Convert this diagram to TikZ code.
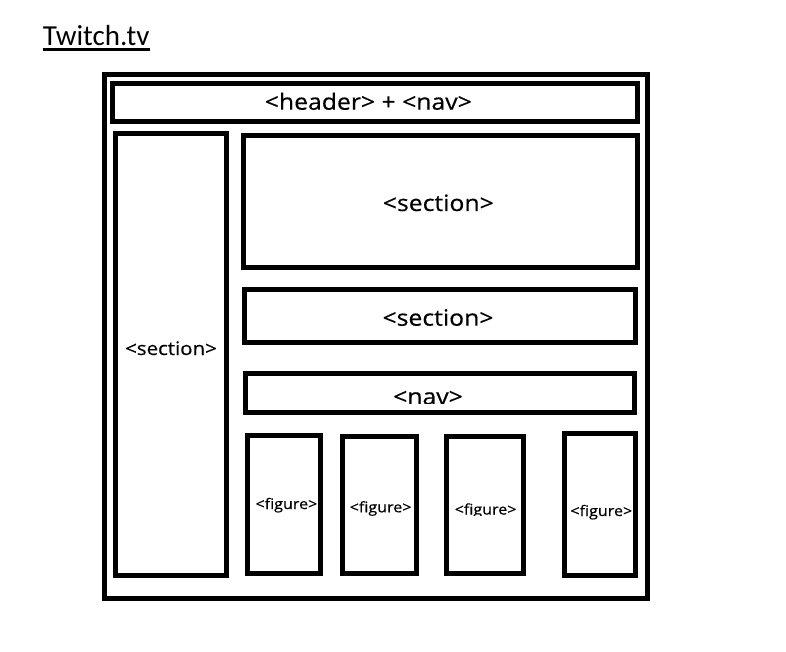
\documentclass[tikz,border=0pt]{standalone}
\usepackage{fontspec}
\usetikzlibrary{fit}
\newfontfamily\titlefont{Carlito}
\newfontfamily\labelfont[FakeStretch=1.1, FakeBold=0.4]{Open Sans}

\tikzset{
  layoutbox/.style={draw=black, line width=5pt, inner sep=0pt, outer sep=0pt},
  biglabel/.style={inner sep=0pt, anchor=base, font=\labelfont\fontsize{22.5}{26}\selectfont},
  midlabel/.style={inner sep=0pt, anchor=base, font=\labelfont\fontsize{18.6}{22}\selectfont},
  smalllabel/.style={inner sep=0pt, anchor=base, font=\labelfont\fontsize{14.6}{17}\selectfont},
}

\begin{document}
\begin{tikzpicture}[x=1pt, y=-1pt]
  \useasboundingbox (0,0) rectangle (786,652);

  % page title
  \node[inner sep=0pt, anchor=base west, font=\titlefont\fontsize{29}{34}\selectfont] (title) at (42.7,46) {Twitch.tv};
  \draw[line width=2.2pt] ([yshift=-3.5pt]title.base west) -- ([yshift=-3.5pt]title.base east);

  % page frame
  \node[layoutbox, fit={(104.5,74.5) (647,598)}] (page) {};

  % header strip
  \node[layoutbox, fit={(112.5,84) (637.5,122)}] (header) {};
  \node[biglabel] (headertext) at (368.3,109.7) {<header> + <nav>};

  % left column
  \node[layoutbox, fit={(115,133.5) (226,575)}] (leftsec) {};
  \node[midlabel] (lefttext) at (171,355) {<section>};

  % main column sections
  \node[layoutbox, fit={(243,135.7) (637.5,267.5)}] (secA) {};
  \node[biglabel] (secAtext) at (438.3,211) {<section>};

  \node[layoutbox, fit={(244,289) (635,342)}] (secB) {};
  \node[biglabel] (secBtext) at (438,325.7) {<section>};

  \node[layoutbox, fit={(245,373) (634,412)}] (nav) {};
  \begin{scope}
    \clip (0,0) rectangle (786,403.5);
    \node[biglabel] (navtext) at (428,404.5) {<nav>};
  \end{scope}

  % row of figures
  \begin{scope}
    \clip (0,0) rectangle (786,512.5);
    \node[smalllabel] (figAtext) at (286.4,509) {<figure>};
  \end{scope}
  \begin{scope}
    \clip (0,0) rectangle (786,515.5);
    \node[smalllabel] (figBtext) at (380.6,512.3) {<figure>};
  \end{scope}
  \begin{scope}
    \clip (0,0) rectangle (786,515.5);
    \node[smalllabel] (figCtext) at (485.6,514.5) {<figure>};
  \end{scope}
  \begin{scope}
    \clip (0,0) rectangle (786,519);
    \node[smalllabel] (figDtext) at (601.3,516) {<figure>};
  \end{scope}

  \node[layoutbox, fit={(247.3,435.7) (320,573.3)}] (figA) {};
  \node[layoutbox, fit={(342.5,436.7) (416.5,573)}] (figB) {};
  \node[layoutbox, fit={(446.5,436.7) (523.5,573)}] (figC) {};
  \node[layoutbox, fit={(564.5,433.3) (635,575.7)}] (figD) {};
\end{tikzpicture}
\end{document}
